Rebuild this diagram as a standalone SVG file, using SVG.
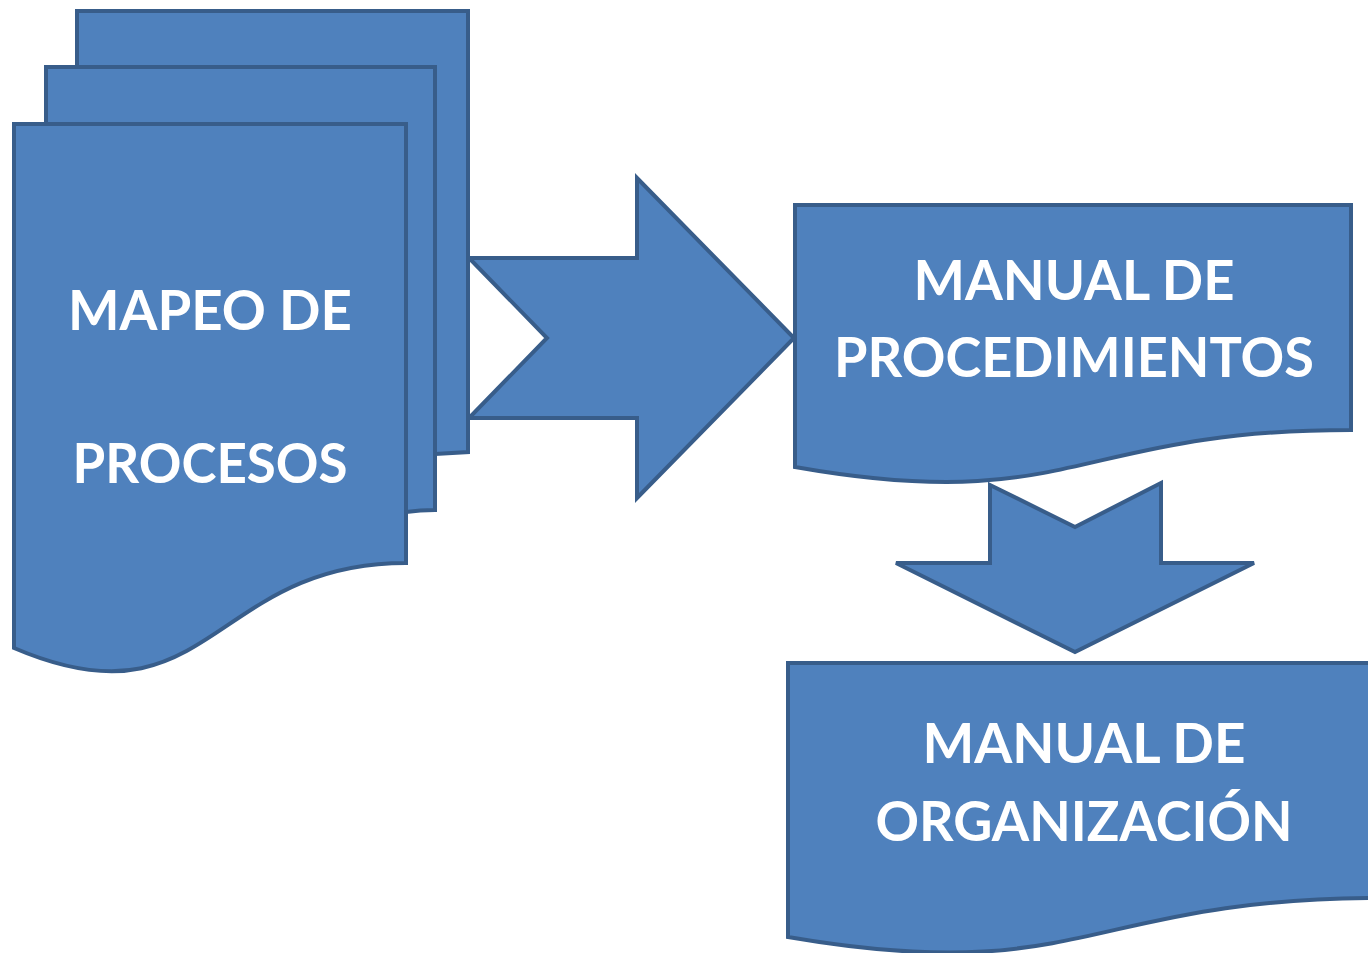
<svg xmlns="http://www.w3.org/2000/svg" width="1368" height="953" viewBox="0 0 1368 953">
<style>
.shape{fill:#4f81bd;stroke:#385d8a;stroke-width:4;stroke-linejoin:miter}
.lbl{font-family:Lato,"Liberation Sans",sans-serif;font-weight:bold;font-size:56px;fill:#ffffff;text-anchor:middle}
</style>
<rect width="1368" height="953" fill="#ffffff"/>
<g id="connectors">
<path class="shape" d="M469,258 H637 V178 L794,338 L637,498 V418 H469 L547,338 Z"/>
<path class="shape" d="M990,485 L1075,527 L1161,483 V563 H1254 L1075,652 L896,563 H990 Z"/>
</g>
<g id="mapeo">
<path class="shape" d="M77,11 H468 V452 L435,454 L77,454 Z"/>
<path class="shape" d="M46,67 H435 V510 Q420,510 406,512 L46,512 Z"/>
<path class="shape" d="M14,124 H406 V563 C210,563 210,732 14,648 Z"/>
<text class="lbl" x="210" y="330" textLength="284" lengthAdjust="spacingAndGlyphs">MAPEO DE</text>
<text class="lbl" x="210" y="483" textLength="275" lengthAdjust="spacingAndGlyphs">PROCESOS</text>
</g>
<g id="procedimientos">
<path class="shape" d="M795,205 H1351 V430 C1073,430 1073,516 795,467 Z"/>
<text class="lbl" x="1074" y="300" textLength="321" lengthAdjust="spacingAndGlyphs">MANUAL DE</text>
<text class="lbl" x="1074" y="377" textLength="480" lengthAdjust="spacingAndGlyphs">PROCEDIMIENTOS</text>
</g>
<g id="organizacion">
<path class="shape" d="M788,663 H1382 V898 C1085,898 1085,988 788,937 Z"/>
<text class="lbl" x="1084" y="763" textLength="323" lengthAdjust="spacingAndGlyphs">MANUAL DE</text>
<text class="lbl" x="1084" y="841" textLength="417" lengthAdjust="spacingAndGlyphs">ORGANIZACIÓN</text>
</g>
</svg>
